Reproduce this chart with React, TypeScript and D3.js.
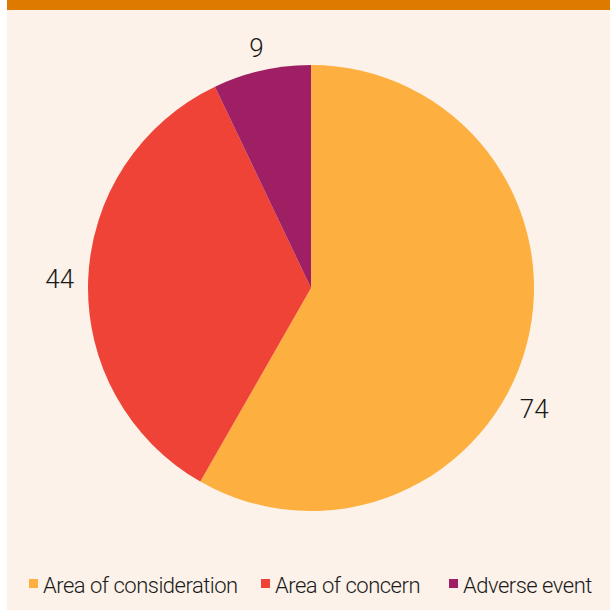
import React from "react";
import * as d3 from "d3";

const categories = ["Area of consideration", "Area of concern", "Adverse event"];
const values = [74, 44, 9];
const colors = ["#FDB040", "#EF4337", "#9E1F63"];
// Per-label angular nudge (radians) mimicking the original's best-fit placement
const labelAngleNudge = [0.235, 0, 0];

const W = 610;
const H = 610;
const cx = 311;
const cy = 288;
const R = 223;
const labelGap = 13;
const numFont = 26;

export default function App() {
  const pie = d3.pie<number>().sort(null).value((d) => d)(values);
  const arc = d3.arc<d3.PieArcDatum<number>>().innerRadius(0).outerRadius(R);

  const legendX = [29, 261, 449];

  return (
    <svg
      width={W}
      height={H}
      style={{ position: "absolute", left: 0, top: 0, display: "block" }}
    >
      <rect x={0} y={0} width={W} height={H} fill="#ffffff" />
      <rect x={7} y={0} width={W - 7} height={H} fill="#FCF2E9" />
      <rect x={7} y={0} width={W - 7} height={10} fill="#DF7A00" />
      <g transform={`translate(${cx},${cy})`}>
        {pie.map((p, i) => (
          <path key={i} d={arc(p) || ""} fill={colors[i]} />
        ))}
        {pie.map((p, i) => {
          const a = (p.startAngle + p.endAngle) / 2 + labelAngleNudge[i];
          const txt = String(p.data);
          const halfW = 0.29 * numFont * txt.length;
          const halfH = 0.36 * numFont;
          const r =
            R + labelGap + Math.abs(Math.sin(a)) * halfW + Math.abs(Math.cos(a)) * halfH;
          const x = r * Math.sin(a);
          const y = -r * Math.cos(a);
          return (
            <text
              key={i}
              x={x}
              y={y + 0.355 * numFont}
              textAnchor="middle"
              fontFamily="Roboto, 'Liberation Sans', sans-serif"
              fontWeight={300}
              fontSize={numFont}
              fill="#1a1a1a"
            >
              {txt}
            </text>
          );
        })}
      </g>
      <g>
        {categories.map((c, i) => (
          <g key={c} transform={`translate(${legendX[i]},579)`}>
            <rect x={0} y={0} width={9} height={9} fill={colors[i]} />
            <text
              x={14}
              y={14}
              fontFamily="Roboto, 'Liberation Sans', sans-serif"
              fontWeight={300}
              fontSize={22}
              letterSpacing={-0.5}
              fill="#1a1a1a"
            >
              {c}
            </text>
          </g>
        ))}
      </g>
    </svg>
  );
}
